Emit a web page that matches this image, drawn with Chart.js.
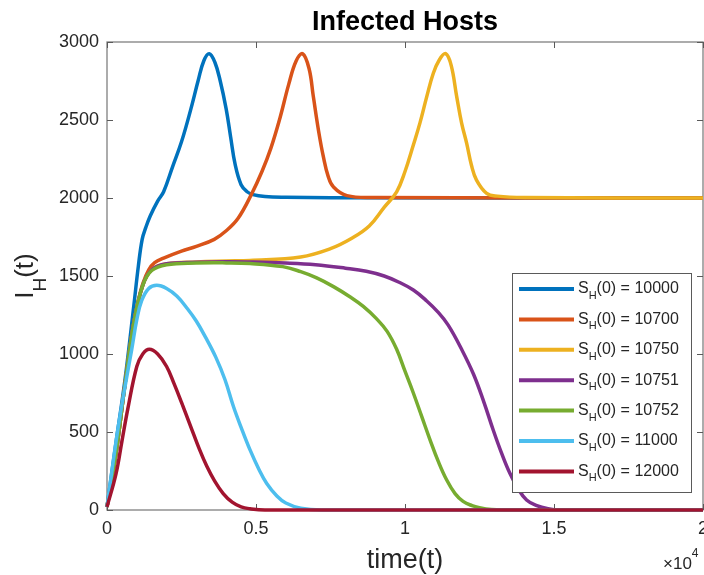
<!DOCTYPE html>
<html>
<head>
<meta charset="utf-8">
<title>Infected Hosts</title>
<script src="https://cdn.jsdelivr.net/npm/chart.js@4.4.1/dist/chart.umd.min.js"></script>
<style>
  html, body { margin: 0; padding: 0; background: #fff; }
  #wrap { width: 704px; height: 575px; }
</style>
</head>
<body>
<div id="wrap"><canvas id="chartHosts" width="704" height="575"></canvas></div>
<script>
// values (time, I_H)
const sH0 = ["10000", "10700", "10750", "10751", "10752", "11000", "12000"];
const colors = ["#0072BD", "#D95319", "#EDB120", "#7E2F8E", "#77AC30", "#4DBEEE", "#A2142F"];

const tBlue = [0, 300, 600, 900, 1050, 1180, 1300, 1450, 1700, 1900, 2200, 2500, 2800, 3064, 3250, 3430, 3620, 3800, 4000, 4150, 4300, 4500, 4700, 4900, 5300, 6000, 7500, 20000];
const iBlue = [20, 430, 830, 1310, 1560, 1735, 1810, 1885, 1980, 2040, 2200, 2360, 2560, 2756, 2880, 2925, 2870, 2750, 2570, 2390, 2215, 2085, 2040, 2022, 2010, 2005, 2002, 2000];

const tOrange = [0, 300, 600, 900, 1050, 1200, 1400, 1600, 1900, 2500, 3000, 3600, 4000, 4400, 4850, 5200, 5500, 5800, 6100, 6350, 6566, 6780, 6924, 7100, 7260, 7420, 7600, 8050, 9000, 20000];
const iOrange = [20, 360, 800, 1200, 1340, 1450, 1540, 1585, 1615, 1660, 1690, 1735, 1790, 1870, 2025, 2170, 2320, 2510, 2730, 2880, 2925, 2830, 2650, 2430, 2265, 2140, 2070, 2015, 2003, 2000];

const tYellow = [0, 300, 600, 900, 1200, 1500, 2000, 3000, 4000, 4800, 6500, 7500, 8200, 8800, 9300, 9720, 10000, 10280, 10500, 10730, 10950, 11150, 11365, 11550, 11735, 11900, 12070, 12230, 12400, 12740, 13100, 14000, 20000];
const iYellow = [20, 360, 800, 1200, 1440, 1540, 1578, 1590, 1596, 1600, 1622, 1675, 1740, 1820, 1940, 2040, 2170, 2340, 2480, 2650, 2800, 2885, 2925, 2850, 2650, 2480, 2350, 2210, 2115, 2030, 2012, 2003, 2000];

const tPurple = [0, 300, 600, 900, 1200, 1500, 2000, 3000, 4000, 4800, 6000, 7000, 8000, 8700, 9300, 9800, 10280, 10730, 11100, 11450, 11900, 12300, 12650, 12960, 13250, 13520, 13800, 14080, 14400, 14800, 15200, 20000];
const iPurple = [20, 360, 800, 1200, 1440, 1540, 1578, 1588, 1592, 1590, 1583, 1572, 1550, 1530, 1500, 1460, 1410, 1340, 1270, 1185, 1030, 870, 690, 513, 360, 235, 135, 64, 30, 8, 0, 0];

const tGreen = [0, 300, 600, 900, 1200, 1500, 2000, 3000, 4000, 4800, 5900, 6500, 7036, 7600, 8150, 8600, 9050, 9400, 9720, 10000, 10280, 10560, 10840, 11120, 11400, 11680, 11950, 12250, 12500, 12900, 13300, 20000];
const iGreen = [20, 360, 800, 1200, 1440, 1535, 1572, 1583, 1584, 1580, 1560, 1528, 1488, 1432, 1367, 1305, 1225, 1145, 1030, 890, 750, 600, 450, 310, 192, 105, 55, 28, 15, 3, 0, 0];

const tCyan = [0, 200, 400, 660, 830, 1000, 1160, 1400, 1670, 2000, 2350, 2700, 3000, 3300, 3650, 3960, 4240, 4500, 4800, 5100, 5360, 5700, 6000, 6500, 7200, 20000];
const iCyan = [20, 300, 560, 850, 1030, 1220, 1340, 1420, 1440, 1420, 1370, 1290, 1210, 1110, 980, 835, 665, 530, 385, 260, 170, 90, 45, 12, 0, 0];

const tRed = [0, 300, 500, 700, 1000, 1200, 1420, 1700, 2000, 2250, 2500, 2800, 3100, 3350, 3600, 3900, 4200, 4500, 4800, 5300, 20000];
const iRed = [20, 230, 440, 650, 920, 1000, 1030, 1000, 920, 810, 690, 540, 390, 280, 190, 105, 50, 20, 8, 0, 0];

const xTicks = [0, 5000, 10000, 15000, 20000];
const yTicks = [0, 500, 1000, 1500, 2000, 2500, 3000];

const allT = [tBlue, tOrange, tYellow, tPurple, tGreen, tCyan, tRed];
const allI = [iBlue, iOrange, iYellow, iPurple, iGreen, iCyan, iRed];

function toPoints(ts, is) {
    var pts = [];
    for (var k = 0; k < ts.length; k++) {
        pts.push({ x: ts[k], y: is[k] });
    }
    return pts;
}

var datasets = [];
for (var i = 0; i < allT.length; i++) {
    datasets.push({
        label: "S_H(0) = " + sH0[i],
        data: toPoints(allT[i], allI[i]),
        borderColor: colors[i],
        backgroundColor: colors[i],
        borderWidth: 3.5,
        pointRadius: 0,
        tension: 0.4,
        fill: false,
        clip: 5,
        order: allT.length - i   // matlab: last series on top
    });
}

const FONT = "'Liberation Sans', Arial, Helvetica, sans-serif";
const AXIS_GRAY = "#808080";
const TEXT_COL = "#262626";

const matlabLook = {
    id: "matlabLook",
    beforeDatasetsDraw(chart) {
        const ctx = chart.ctx;
        const a = chart.chartArea;
        const xs = chart.scales.x, ys = chart.scales.y;
        ctx.save();
        ctx.strokeStyle = AXIS_GRAY;
        ctx.lineWidth = 1.3;
        ctx.strokeRect(a.left, a.top, a.right - a.left, a.bottom - a.top);
        ctx.lineWidth = 1;
        ctx.strokeStyle = "#5a5a5a";
        const tl = 6;
        ctx.beginPath();
        xTicks.forEach(function (v) {
            var px = Math.round(xs.getPixelForValue(v)) + 0.5;
            ctx.moveTo(px, a.bottom); ctx.lineTo(px, a.bottom - tl);
            ctx.moveTo(px, a.top); ctx.lineTo(px, a.top + tl);
        });
        yTicks.forEach(function (v) {
            var py = Math.round(ys.getPixelForValue(v)) + 0.5;
            ctx.moveTo(a.left, py); ctx.lineTo(a.left + tl, py);
            ctx.moveTo(a.right, py); ctx.lineTo(a.right - tl, py);
        });
        ctx.stroke();
        ctx.restore();
    },
    afterDraw(chart) {
        const ctx = chart.ctx;
        const a = chart.chartArea;
        const cx = (a.left + a.right) / 2;
        const cy = (a.top + a.bottom) / 2;
        ctx.save();
        ctx.fillStyle = "#000";
        // title
        ctx.font = "bold 27px " + FONT;
        ctx.textAlign = "center";
        ctx.textBaseline = "alphabetic";
        ctx.fillText("Infected Hosts", cx, 30);

        // x label
        ctx.fillStyle = TEXT_COL;
        ctx.font = "27px " + FONT;
        ctx.fillText("time(t)", cx, 568);

        // x10^4
        ctx.textAlign = "left";
        ctx.font = "17px " + FONT;
        ctx.fillText("\u00d710", 663, 569);
        var w10 = ctx.measureText("\u00d710").width;
        ctx.font = "12px " + FONT;
        ctx.fillText("4", 663 + w10, 557);

        // y label I_H(t)
        ctx.save();
        ctx.translate(33, cy);
        ctx.rotate(-Math.PI / 2);
        ctx.font = "26px " + FONT;
        var wI = ctx.measureText("I").width;
        var wT = ctx.measureText("(t)").width;
        ctx.font = "19px " + FONT;
        var wH = ctx.measureText("H").width;
        var x0 = -(wI + wH + wT) / 2;
        ctx.font = "26px " + FONT;
        ctx.fillText("I", x0, 0);
        ctx.font = "19px " + FONT;
        ctx.fillText("H", x0 + wI, 13);
        ctx.font = "26px " + FONT;
        ctx.fillText("(t)", x0 + wI + wH, 0);
        ctx.restore();

        // legend
        const lx = 512, ly = 273, lw = 179, lh = 219;
        ctx.fillStyle = "#fff";
        ctx.fillRect(lx, ly, lw, lh);
        ctx.strokeStyle = "#5a5a5a";
        ctx.lineWidth = 1;
        ctx.strokeRect(lx + 0.5, ly + 0.5, lw, lh);
        ctx.textBaseline = "middle";
        for (var i = 0; i < sH0.length; i++) {
            var ry = 289 + i * 30.4;
            ctx.strokeStyle = colors[i];
            ctx.lineWidth = 4;
            ctx.beginPath();
            ctx.moveTo(519, ry);
            ctx.lineTo(574, ry);
            ctx.stroke();
            ctx.fillStyle = TEXT_COL;
            var tx = 578;
            ctx.font = "16px " + FONT;
            ctx.fillText("S", tx, ry);
            tx += ctx.measureText("S").width;
            ctx.font = "11px " + FONT;
            ctx.fillText("H", tx, ry + 7);
            tx += ctx.measureText("H").width;
            ctx.font = "16px " + FONT;
            ctx.fillText("(0) = " + sH0[i], tx, ry);
        }
        ctx.restore();
    }
};

var ctxHosts = document.getElementById("chartHosts").getContext("2d");
var chart = new Chart(ctxHosts, {
    type: "line",
    data: { datasets: datasets },
    options: {
        responsive: false,
        animation: false,
        devicePixelRatio: 1,
        layout: { padding: { left: 0, top: 42, right: 1, bottom: 0 } },
        plugins: {
            legend: { display: false },
            title: { display: false },
            tooltip: { enabled: false }
        },
        scales: {
            x: {
                type: "linear",
                min: 0,
                max: 20000,
                grid: { display: false, drawTicks: false },
                border: { display: false },
                ticks: {
                    stepSize: 5000,
                    padding: 8,
                    color: TEXT_COL,
                    font: { size: 18, family: FONT },
                    maxRotation: 0,
                    callback: function (v) { return String(v / 10000); }
                },
                afterFit: function (s) {
                    s.height = 65;
                    s.paddingLeft = 0;
                    s.paddingRight = 0;
                }
            },
            y: {
                min: 0,
                max: 3000,
                grid: { display: false, drawTicks: false },
                border: { display: false },
                ticks: {
                    stepSize: 500,
                    padding: 8,
                    color: TEXT_COL,
                    font: { size: 18, family: FONT },
                    callback: function (v) { return String(v); }
                },
                afterFit: function (s) {
                    s.width = 107;
                }
            }
        }
    },
    plugins: [matlabLook]
});
</script>
</body>
</html>
